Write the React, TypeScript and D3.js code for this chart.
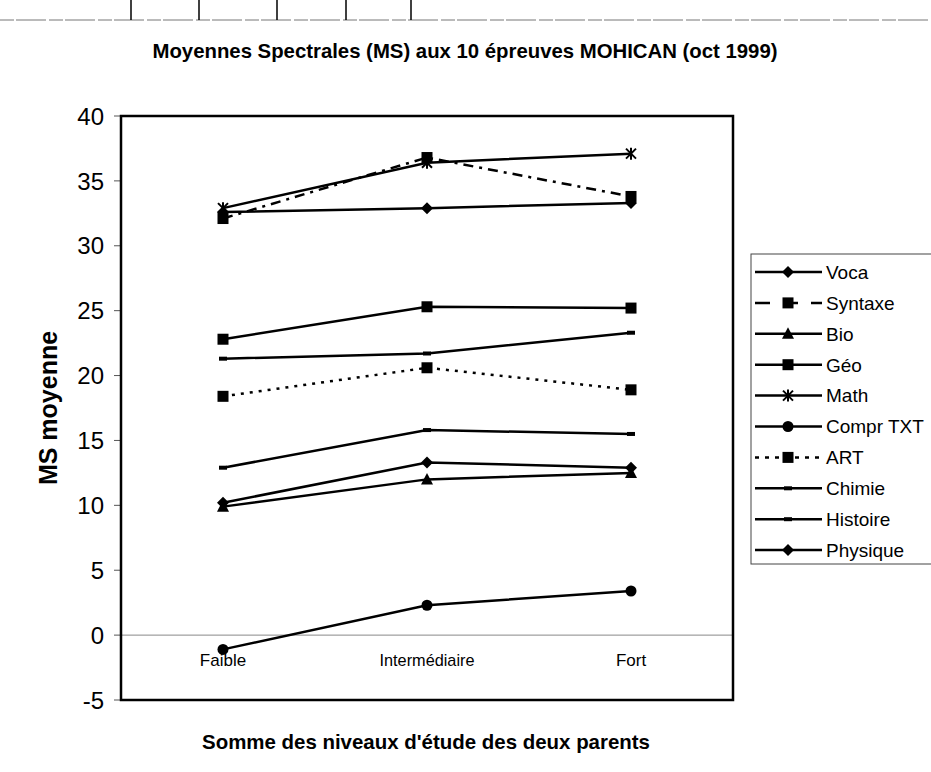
import React from "react";
import * as d3 from "d3";

const categories = ["Faible", "Intermédiaire", "Fort"];
const seriesNames = ["Voca", "Syntaxe", "Bio", "Géo", "Math", "Compr TXT", "ART", "Chimie", "Histoire", "Physique"];
const voca = [32.6, 32.9, 33.3];
const syntaxe = [32.1, 36.8, 33.8];
const bio = [9.9, 12.0, 12.5];
const geo = [22.8, 25.3, 25.2];
const math = [32.9, 36.4, 37.1];
const comprTxt = [-1.1, 2.3, 3.4];
const art = [18.4, 20.6, 18.9];
const chimie = [21.3, 21.7, 23.3];
const histoire = [12.9, 15.8, 15.5];
const physique = [10.2, 13.3, 12.9];
const yTickValues = [-5, 0, 5, 10, 15, 20, 25, 30, 35, 40];
const title = "Moyennes Spectrales (MS) aux 10 épreuves MOHICAN (oct 1999)";
const xTitle = "Somme des niveaux d'étude des deux parents";
const yTitle = "MS moyenne";

type Marker = "diamond" | "square" | "triangle" | "star" | "circle" | "dash";
const seriesValues = [voca, syntaxe, bio, geo, math, comprTxt, art, chimie, histoire, physique];
const seriesMarkers: Marker[] = ["diamond", "square", "triangle", "square", "star", "circle", "square", "dash", "dash", "diamond"];
const seriesDash = ["", "10,6,3,6", "", "", "", "", "3,6", "", "", ""];

const FONT = "'Liberation Sans', Arial, Helvetica, sans-serif";

function MarkerShape({ type, x, y }: { type: Marker; x: number; y: number }) {
  switch (type) {
    case "diamond":
      return <path d={`M${x},${y - 6}L${x + 6},${y}L${x},${y + 6}L${x - 6},${y}Z`} fill="#000" />;
    case "square":
      return <rect x={x - 5.5} y={y - 5.5} width={11} height={11} fill="#000" />;
    case "triangle":
      return <path d={`M${x},${y - 6.5}L${x + 6},${y + 5}L${x - 6},${y + 5}Z`} fill="#000" />;
    case "circle":
      return <circle cx={x} cy={y} r={5.5} fill="#000" />;
    case "dash":
      return <rect x={x - 4} y={y - 2} width={8} height={4} fill="#000" />;
    case "star":
      return (
        <path
          d={`M${x - 5},${y - 5}L${x + 5},${y + 5}M${x + 5},${y - 5}L${x - 5},${y + 5}M${x},${y - 6}L${x},${y + 6}`}
          stroke="#000"
          strokeWidth={2}
          fill="none"
        />
      );
  }
  return null;
}

export default function App() {
  const W = 931;
  const H = 772;
  const left = 121;
  const right = 733;
  const top = 116;
  const bottom = 700;

  const x = d3.scaleBand<string>().domain(categories).range([left, right]).padding(0);
  const y = d3.scaleLinear().domain([-5, 40]).range([bottom, top]);
  const cx = (c: string) => (x(c) as number) + x.bandwidth() / 2;

  const line = d3
    .line<number>()
    .x((_, i) => cx(categories[i]))
    .y((v) => y(v));

  const legX = 751;
  const legY = 254;
  const legStep = 30.9;
  const legFirst = 272;

  return (
    <svg
      width={W}
      height={H}
      style={{ position: "absolute", left: 0, top: 0, background: "#fff" }}
      fontFamily={FONT}
    >
      <rect x={0} y={0} width={W} height={H} fill="#fff" />
      {/* top artifacts */}
      <line x1={0} x2={W} y1={20} y2={20} stroke="#777" strokeWidth={1} strokeDasharray="14,2,30,3" />
      {[131, 199, 277, 346, 411].map((tx) => (
        <line key={tx} x1={tx} x2={tx} y1={0} y2={20} stroke="#000" strokeWidth={1.5} />
      ))}

      {/* title */}
      <text x={465} y={58} textAnchor="middle" fontSize={21} fontWeight="bold" textLength={625} lengthAdjust="spacingAndGlyphs">
        {title}
      </text>

      {/* zero line */}
      <line x1={left} x2={right} y1={y(0)} y2={y(0)} stroke="#888" strokeWidth={1} />

      {/* y axis ticks and labels */}
      {yTickValues.map((t) => (
        <g key={t}>
          <line x1={114} x2={left} y1={y(t)} y2={y(t)} stroke="#555" strokeWidth={1} />
          <text x={104} y={y(t)} dy="0.36em" textAnchor="end" fontSize={24}>
            {t}
          </text>
        </g>
      ))}

      {/* series */}
      {seriesValues.map((vals, si) => (
        <g key={seriesNames[si]}>
          <path
            d={line(vals) || ""}
            fill="none"
            stroke="#000"
            strokeWidth={2.5}
            strokeDasharray={seriesDash[si] || undefined}
          />
          {vals.map((v, i) => (
            <MarkerShape key={i} type={seriesMarkers[si]} x={cx(categories[i])} y={y(v)} />
          ))}
        </g>
      ))}

      {/* x category labels */}
      {categories.map((c) => (
        <text key={c} x={cx(c)} y={666} textAnchor="middle" fontSize={17} textLength={c === "Intermédiaire" ? 95 : undefined} lengthAdjust="spacingAndGlyphs">
          {c}
        </text>
      ))}

      {/* plot border */}
      <rect x={left} y={top} width={right - left} height={bottom - top} fill="none" stroke="#000" strokeWidth={2.5} />

      {/* axis titles */}
      <text x={426} y={749} textAnchor="middle" fontSize={21} fontWeight="bold" textLength={448} lengthAdjust="spacingAndGlyphs">
        {xTitle}
      </text>
      <text
        transform={`translate(57,${(top + bottom) / 2}) rotate(-90)`}
        textAnchor="middle"
        fontSize={25}
        fontWeight="bold"
      >
        {yTitle}
      </text>

      {/* legend */}
      <rect x={legX} y={legY} width={200} height={310} fill="#fff" stroke="#444" strokeWidth={1} />
      {seriesNames.map((name, i) => {
        const ly = legFirst + i * legStep;
        return (
          <g key={name}>
            <line
              x1={755}
              x2={822}
              y1={ly}
              y2={ly}
              stroke="#000"
              strokeWidth={2.5}
              strokeDasharray={seriesDash[i] ? (i === 1 ? "15,13" : "4,6") : undefined}
            />
            <MarkerShape type={seriesMarkers[i]} x={788} y={ly} />
            <text x={826} y={ly} dy="0.36em" fontSize={19}>
              {name}
            </text>
          </g>
        );
      })}
    </svg>
  );
}
